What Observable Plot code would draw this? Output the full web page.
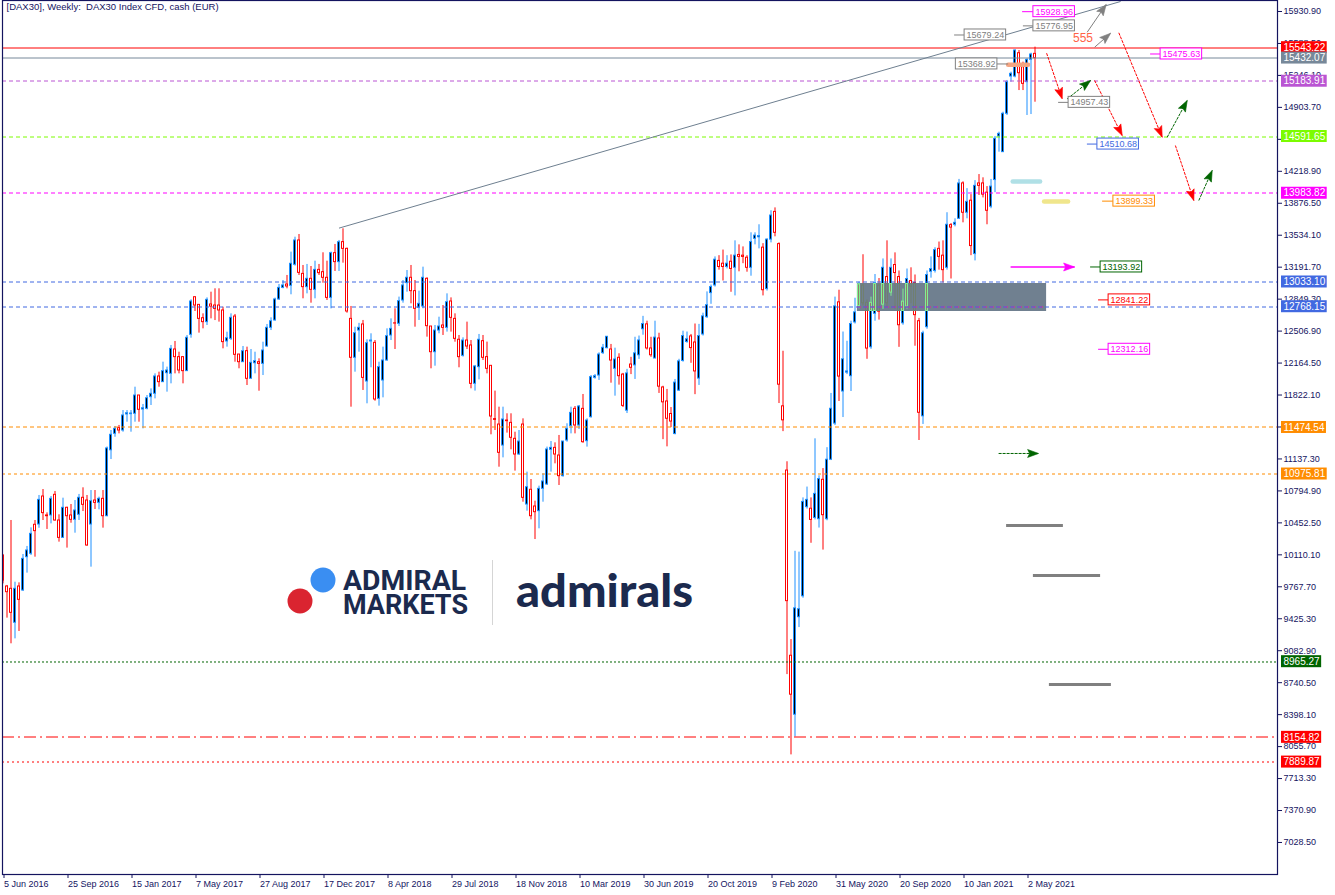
<!DOCTYPE html>
<html><head><meta charset="utf-8">
<script src="https://cdn.jsdelivr.net/npm/d3@7"></script>
<script src="https://cdn.jsdelivr.net/npm/@observablehq/plot@0.6"></script>
<style>
html,body{margin:0;padding:0;background:#fff;}
#chart{position:absolute;left:0;top:0;}
</style></head><body><div id="chart"></div>
<script>
// ---------- DATA (weekly candles, index 0 = week of 5 Jun 2016) ----------
const opens = [10100,9771,9746,9382,9771,9728,10085,10121,10432,10435,10735,10532,10532,10753,10478,10292,10614,10532,10485,10539,10721,10692,10435,10692,10667,10710,10524,11230,11406,11467,11442,11614,11617,11621,11817,11667,11674,11799,11835,12021,11960,12056,12049,12310,12228,12228,12078,12467,12870,12788,12645,12603,12792,12781,12781,12728,12396,12424,12663,12256,12174,12292,11996,12163,12174,12156,12342,12542,12621,12846,12970,13006,12992,13217,13478,13120,12978,13067,12949,13163,13138,13078,12863,13342,13246,13460,13388,12638,12221,12513,12578,11967,12396,12381,11781,11978,12192,12460,12590,12585,12835,13021,13078,12935,12756,12771,13067,12556,12281,12513,12567,12542,12824,12638,12414,12242,12406,12353,11942,12121,12399,12228,12135,11564,11506,11281,11549,11524,11353,11185,11506,10649,10807,10628,10578,10817,10864,11235,11256,11174,10953,11335,11489,11674,11496,11674,11328,11585,12006,12031,12271,12324,12310,12103,12221,12041,11654,12149,12140,12248,12527,12579,12321,12213,12428,11903,11753,11619,11404,11869,12187,12390,12450,12385,11998,12471,12656,12914,12996,13259,13229,13194,13250,13185,13323,13315,13293,13185,13495,13512,13401,12957,13487,13784,13439,11701,11013,9029,8397,9442,9666,10621,10604,10505,10492,10914,10492,11129,11516,12815,11860,12062,12024,12600,12770,13000,12815,12334,12692,13000,12785,13086,12914,13215,13086,12591,12764,13043,13022,12613,11594,12549,13142,13151,13388,13315,13185,13642,13646,13710,14089,13775,13904,13332,14089,14089,13990,13839,14125,14592,14424,14835,15234,15234,15484,15334,15174,15413,15477];
const highs = [10114,9782,10478,9817,9810,10114,10200,10399,10478,10746,10810,10560,10735,10789,10539,10717,10620,10649,10692,10757,10828,10746,10799,10799,10728,10799,11265,11442,11485,11496,11656,11656,11656,11906,11817,11721,11817,11888,12049,12067,12174,12121,12353,12396,12281,12228,12460,12842,12870,12788,12692,12863,12924,12960,12960,12763,12495,12692,12685,12256,12342,12335,12310,12281,12210,12388,12578,12649,12860,13006,13049,13103,13353,13513,13542,13210,13221,13199,13256,13221,13346,13256,13353,13435,13478,13603,13396,12771,12549,12590,12621,12414,12478,12406,12174,12335,12531,12638,12746,12871,13049,13156,13210,13049,12935,13192,13078,12556,12567,12656,12781,12906,12863,12692,12460,12435,12603,12406,12139,12471,12460,12389,12135,11864,11692,11692,11621,11621,11424,11442,11567,10996,10917,10685,10846,10978,11264,11324,11310,11389,11324,11514,11692,11699,11710,11828,11567,12031,12042,12274,12364,12446,12364,12324,12264,12054,12097,12226,12441,12454,12665,12613,12441,12613,12484,11916,11882,11688,11989,12205,12506,12497,12471,12583,12579,12699,12927,13000,13302,13315,13375,13315,13323,13474,13431,13409,13315,13560,13560,13646,13444,13495,13796,13827,13452,12291,11107,9202,10148,10139,10720,10836,10720,11353,10957,11034,11258,11839,12871,12945,12497,12398,12613,12859,13031,13325,12841,12871,13113,13070,13280,13474,13280,13345,13151,12957,13172,13185,13108,12643,12506,13151,13302,13400,13461,13474,13775,13659,13710,14132,14106,14033,13969,14119,14184,14149,14055,14132,14592,14638,14852,15192,15281,15520,15513,15388,15424,15484,15549];
const lows = [9799,9432,9157,9210,9289,9717,9914,10103,10085,10395,10478,10382,10442,10471,10246,10288,10182,10449,10342,10478,10574,10203,9978,10596,10592,10396,10518,11131,11370,11406,11424,11531,11424,11531,11531,11460,11663,11710,11781,11906,11960,11853,11942,12049,12049,11942,12078,12431,12717,12485,12531,12567,12638,12620,12603,12317,12335,12406,12174,12103,12174,11924,11996,12049,11863,12031,12335,12513,12613,12835,12960,12960,12896,13203,13103,12853,12906,12806,12853,13103,13020,12835,12745,13146,13146,13235,12699,11692,12067,12281,11871,11728,12114,11756,11703,11792,12185,12406,12310,12556,12806,12924,12799,12549,12621,12746,12442,12103,12131,12478,12460,12496,12496,12388,12114,12228,12310,11889,11864,11985,12192,12049,11396,11442,11049,11149,11414,11235,11007,11174,10674,10578,10485,10274,10389,10674,10853,10996,11085,10853,10942,11317,11406,11406,11453,11306,11264,11574,11992,11978,12256,12317,11949,11810,11928,11688,11624,12041,11989,12204,12463,12304,12226,12213,11839,11344,11267,11473,11396,11860,12174,12377,12162,11826,11925,12454,12643,12794,12979,13160,13044,13173,12923,12884,13142,13229,13138,13095,13431,13388,12884,12936,13452,13517,11731,11430,8827,7967,8160,9331,9645,10600,10234,10484,10397,10161,10475,11120,11495,11753,11581,12041,11860,12583,12745,12780,12205,12312,12613,12625,12740,12760,12880,12742,12333,12570,12742,12800,12345,11335,11507,12527,13074,13129,13160,13022,13160,13065,13624,13702,13667,13710,13315,13259,13960,13934,13646,13818,13990,14424,14424,14817,15174,15220,15084,15084,14817,14827,14959];
const closes = [9834,9710,9489,9746,9628,10067,10157,10335,10364,10699,10557,10524,10710,10478,10292,10614,10524,10485,10585,10721,10646,10210,10685,10667,10710,10524,11250,11396,11460,11442,11603,11628,11624,11817,11664,11681,11788,11835,12021,11960,12078,12085,12317,12228,12085,12078,12435,12824,12781,12638,12603,12842,12770,12745,12728,12389,12431,12649,12253,12174,12292,11996,12167,12185,12156,12299,12542,12613,12846,12970,12996,12985,13228,13478,13131,12978,13067,12949,13163,13128,13078,12863,13342,13246,13460,13388,12717,12221,12485,12542,12006,12378,12406,11774,12121,12192,12453,12531,12588,12828,12996,13078,12935,12746,12799,13078,12560,12281,12513,12556,12542,12817,12649,12424,12228,12406,12342,11942,12128,12414,12221,12103,11592,11556,11203,11560,11542,11364,11185,11324,10721,10835,10524,10567,10817,10896,11239,11256,11185,10953,11324,11460,11631,11496,11699,11317,11549,12014,12024,12256,12328,12446,12192,12203,12024,11706,12054,12114,12269,12407,12583,12321,12248,12437,11912,11744,11568,11538,11955,12183,12454,12420,12325,12075,12454,12665,12785,12979,13272,13194,13194,13229,13173,13315,13302,13302,13185,13461,13530,13525,12945,13487,13745,13560,11933,11551,9614,8612,9537,9528,10677,10699,10484,10763,10922,10535,11129,11675,12772,12020,12205,12075,12583,12708,13013,12800,12320,12815,13020,12715,13185,12800,13185,13129,12570,12828,13065,12979,12678,11632,12484,13108,13172,13375,13302,13160,13646,13616,13667,14089,13775,13891,13418,14063,14063,13969,13796,14055,14567,14620,14835,15174,15263,15513,15270,15156,15413,15470,15431];

const dateLabels = ["5 Jun 2016","25 Sep 2016","15 Jan 2017","7 May 2017","27 Aug 2017","17 Dec 2017","8 Apr 2018","29 Jul 2018","18 Nov 2018","10 Mar 2019","30 Jun 2019","20 Oct 2019","9 Feb 2020","31 May 2020","20 Sep 2020","10 Jan 2021","2 May 2021"];
const weeksPerLabel = 16;
const priceTicks = [15930.90,15588.50,15246.10,14903.70,14561.30,14218.90,13876.50,13534.10,13191.70,12849.30,12506.90,12164.50,11822.10,11479.70,11137.30,10794.90,10452.50,10110.10,9767.70,9425.30,9082.90,8740.50,8398.10,8055.70,7713.30,7370.90,7028.50];

// horizontal levels
const levelPrices = [15543.22,15432.07,15183.91,14591.65,13983.82,13033.10,12768.15,11474.54,10975.81,8965.27,8154.82,7889.87];
// price tags on the chart
const tagPrices = [15928.96,15776.95,15679.24,15368.92,15475.63,14957.43,14510.68,13899.33,13193.92,12841.22,12312.16];
const tagBoxWeek = [257.6,257.6,240.4,248.6,289.4,266.4,273.6,277.6,274.4,276.4,276.4];
const tagLeadWeek = [254.9,255.1,237.9,251.4,286.9,263.9,271.1,274.9,271.9,273.9,273.9];
// zone box (weeks, prices)
const zoneWeeks = [213.6, 260.9];
const zonePrices = [12717, 13017];
// trend line anchors
const trendWeeks = [84, 279.4];
const trendPrices = [13610, 16038];
// arrows [week1, price1, week2, price2]
const redArrows = [[260.9,15484,264.8,14995],[272.9,15192,279.8,14602],[278.95,15703,289.8,14584],[293.1,14495,297.7,13906]];
const greenArrows = [[266.05,14995,271.9,15192],[291.05,14584,296.05,14977],[298.95,13906,302.3,14228],[248.9,11196,258.9,11196]];
const grayArrows = [[271.05,15709,275.8,16006],[272.9,15548,276.9,15698]];
const pinkArrows = [[251.9,13194,267.9,13194]];
// marker bars [week1, week2, price]
const colorBars = [[251.4,256.4,15360],[252.55,259.4,14110],[260.4,266.4,13895]];
const grayBars = [[250.9,265.1,10424],[257.6,274.4,9889],[261.6,277.1,8721]];
const note555 = {week: 270, price: 15641, text: "555"};

// ---------- STYLES ----------
const navy = "#14145f";
const BULL = "#1E90FF", BEAR = "#FF0000";
// colours of candle parts seen through the (XOR-painted) zone box
const ZONE_FILL = "#708090", ZONE_BULL = "#81EF90", ZONE_BEAR = "#707F6F", ZONE_BLACK = "#8F7F6F";
const levelColors = ["#FF0000","#778899","#BA55D3","#7CFC00","#FF00FF","#4169E1","#4169E1","#FF8C00","#FF8C00","#006400","#FF0000","#FF0000"];
const levelDash = [null,null,"4,3","4,3","4,3","4,3","4,3","4,3","3,3","2,2","12,4,2,4","2,3"];
const tagColors = ["#FF00FF","#808080","#808080","#808080","#FF00FF","#808080","#4169E1","#FF8C00","#006400","#FF0000","#FF00FF"];
const colorBarColors = ["#F4A582","#B0E0E6","#F0E68C"];
const FONT = "'Liberation Sans', Arial, sans-serif";

// ---------- BUILD ----------
const xDomain = [-0.125, 318.625];
const yDomain = [6685.5, 16048.7];
const W = 1335, H = 895, mL = 2, mR = 58, mT = 0, mB = 21;
const xs = d3.scaleLinear(xDomain, [mL, W - mR]);
const ys = d3.scaleLinear(yDomain, [H - mB, mT]);
const snap = p => (Math.floor(ys(p)) + 0.5) - ys(p);   // pixel-centre offset for 1px lines

const candles = opens.map((o, i) => ({i, o, h: highs[i], l: lows[i], c: closes[i], up: closes[i] >= o,
  bt: Math.max(o, closes[i]), bb: Math.min(o, closes[i])}));
const bodyPx = d => ys(d.bb) - ys(d.bt);
const zone = {w1: zoneWeeks[0], w2: zoneWeeks[1], lo: zonePrices[0], hi: zonePrices[1]};
const inZone = candles.filter(d => d.i >= zone.w1 && d.i <= zone.w2 && d.l < zone.hi && d.h > zone.lo);
const inZoneBodies = inZone.filter(d => d.bb < zone.hi && d.bt > zone.lo)
  .map(d => ({i: d.i, up: d.up, bt: Math.min(d.bt, zone.hi), bb: Math.max(d.bb, zone.lo)}));

const mctx = document.createElement("canvas").getContext("2d");
function textW(s, px) { mctx.font = `${px}px ${FONT}`; return mctx.measureText(s).width; }

const tags = tagPrices.map((p, k) => ({p, box: tagBoxWeek[k], lead: tagLeadWeek[k], color: tagColors[k], text: p.toFixed(2), right: tagLeadWeek[k] < tagBoxWeek[k]}));
const tagRects = tags.map(t => {
  const w = textW(t.text, 9) + 4, px = xs(t.box);
  return {color: t.color,
    x1: t.right ? t.box : xs.invert(px - w), x2: t.right ? xs.invert(px + w) : t.box,
    y1: ys.invert(ys(t.p) + 5.5), y2: ys.invert(ys(t.p) - 5.5)};
});
const axisTags = levelPrices.map((p, k) => ({p, color: levelColors[k], text: p.toFixed(2)}));
const axisRects = axisTags.map(t => {
  const w = textW(t.text, 10) + 4;
  return {color: t.color, x1: xs.invert(W - mR + 4), x2: xs.invert(W - mR + 4 + w),
    y1: ys.invert(ys(t.p) + 6), y2: ys.invert(ys(t.p) - 6)};
});

const toSeg = a => ({w1: a[0], p1: a[1], w2: a[2], p2: a[3]});
const headAngle = d => Math.atan2(xs(d.w2) - xs(d.w1), -(ys(d.p2) - ys(d.p1))) * 180 / Math.PI;
const headSymbol = {draw(ctx) { ctx.moveTo(0, 0); ctx.lineTo(-4, 11); ctx.lineTo(0, 9); ctx.lineTo(4, 11); ctx.closePath(); }};
function arrowMarks(list, color, dash, width) {
  const segs = list.map(toSeg);
  return [
    Plot.link(segs, {x1: "w1", y1: "p1", x2: "w2", y2: "p2", stroke: color, strokeWidth: width, strokeDasharray: dash}),
    Plot.dot(segs, {x: "w2", y: "p2", r: 5, symbol: headSymbol, fill: color, stroke: color, strokeWidth: 0.6, rotate: headAngle})
  ];
}

const marks = [
  Plot.text(["[DAX30], Weekly:\u00a0 DAX30 Index CFD, cash (EUR)"], {frameAnchor: "top-left", dx: 4, dy: 3, lineAnchor: "top", textAnchor: "start", fill: navy, fontSize: 9.5}),
  // candles: wick, outer body (border colour), inner body (fill)
  Plot.ruleX(candles, {x: "i", y1: "l", y2: "h", stroke: d => d.up ? BULL : BEAR, strokeWidth: 1, clip: true}),
  Plot.rect(candles, {x1: d => d.i - 0.375, x2: d => d.i + 0.375, y1: "bb", y2: "bt", insetTop: -0.5, insetBottom: -0.5,
    fill: d => d.up ? BULL : BEAR, clip: true}),
  Plot.rect(candles.filter(d => bodyPx(d) > 1.2), {x1: d => d.i - 0.125, x2: d => d.i + 0.125, y1: "bb", y2: "bt", insetTop: 0.5, insetBottom: 0.5,
    fill: d => d.up ? "#000000" : "#FFFFFF", clip: true}),
  // zone box with candles seen through it
  Plot.rect([zone], {x1: "w1", x2: "w2", y1: "lo", y2: "hi", fill: ZONE_FILL}),
  Plot.ruleX(inZone, {x: "i", y1: d => Math.max(d.l, zone.lo), y2: d => Math.min(d.h, zone.hi), stroke: d => d.up ? ZONE_BULL : ZONE_BEAR, strokeWidth: 1}),
  Plot.rect(inZoneBodies, {x1: d => d.i - 0.375, x2: d => d.i + 0.375, y1: "bb", y2: "bt", fill: d => d.up ? ZONE_BULL : ZONE_BEAR}),
  Plot.rect(inZoneBodies.filter(d => ys(d.bb) - ys(d.bt) > 2), {x1: d => d.i - 0.125, x2: d => d.i + 0.125, y1: "bb", y2: "bt", insetTop: 1, insetBottom: 1,
    fill: d => d.up ? ZONE_BLACK : ZONE_FILL}),
  Plot.ruleY([levelPrices[6]], {x1: zone.w1, x2: zone.w2, stroke: "#FF1493", strokeDasharray: "4,3", dy: snap(levelPrices[6])}),
  // levels
  ...levelPrices.map((p, k) => Plot.ruleY([p], {stroke: levelColors[k], strokeWidth: 1, strokeDasharray: levelDash[k] || undefined, dy: snap(p)})),
  // trend line
  Plot.link([{w1: trendWeeks[0], p1: trendPrices[0], w2: trendWeeks[1], p2: trendPrices[1]}], {x1: "w1", y1: "p1", x2: "w2", y2: "p2", stroke: "#6E7F90", strokeWidth: 1, clip: true}),
  // marker bars
  Plot.ruleY(colorBars.map((b, k) => ({w1: b[0], w2: b[1], p: b[2], c: colorBarColors[k]})), {y: "p", x1: "w1", x2: "w2", stroke: "c", strokeWidth: 4.5, strokeLinecap: "round"}),
  Plot.ruleY(grayBars.map(b => ({w1: b[0], w2: b[1], p: b[2]})), {y: "p", x1: "w1", x2: "w2", stroke: "#808080", strokeWidth: 3}),
  // arrows
  ...arrowMarks(redArrows, "#FF0000", "3,1", 1),
  ...arrowMarks(greenArrows, "#006400", "3,1", 1),
  ...arrowMarks(grayArrows, "#808080", null, 1),
  ...arrowMarks(pinkArrows, "#FF00FF", null, 1.6),
  // tags
  Plot.ruleY(tags, {y: "p", x1: "lead", x2: "box", stroke: "color", strokeWidth: 1}),
  Plot.rect(tagRects, {x1: "x1", x2: "x2", y1: "y1", y2: "y2", fill: "white", stroke: "color", strokeWidth: 1}),
  Plot.text(tags.filter(t => t.right), {x: "box", y: "p", text: "text", fill: "color", textAnchor: "start", dx: 2, fontSize: 9}),
  Plot.text(tags.filter(t => !t.right), {x: "box", y: "p", text: "text", fill: "color", textAnchor: "end", dx: -2, fontSize: 9}),
  Plot.text([note555], {x: "week", y: "price", text: "text", fill: "#FF6347", fontSize: 12}),
  // axes
  Plot.axisY(priceTicks, {anchor: "right", tickSize: 4, tickPadding: 2, tickFormat: d => d.toFixed(2), fontSize: 9, label: null}),
  Plot.axisX(dateLabels.map((_, k) => k * weeksPerLabel), {anchor: "bottom", tickSize: 4, tickPadding: 2, tickFormat: d => dateLabels[d / weeksPerLabel], textAnchor: "start", dx: 1, fontSize: 9, label: null}),
  // level tags on the price axis
  Plot.rect(axisRects, {x1: "x1", x2: "x2", y1: "y1", y2: "y2", fill: "color"}),
  Plot.text(axisTags, {x: xs.invert(W - mR + 6), y: "p", text: "text", fill: "white", textAnchor: "start", fontSize: 10}),
  Plot.frame({stroke: navy, strokeWidth: 1.2})
];

const plot = Plot.plot({
  width: W, height: H, marginLeft: mL, marginRight: mR, marginTop: mT, marginBottom: mB,
  style: {fontFamily: FONT, fontSize: "9px", color: navy, background: "white", overflow: "visible"},
  x: {type: "linear", domain: xDomain},
  y: {type: "linear", domain: yDomain},
  color: {type: "identity"},
  marks
});
document.getElementById("chart").append(plot);

// ---------- watermark logo ----------
const svg = d3.select(plot);
const logo = svg.append("g").attr("font-family", "Roboto, 'Open Sans', sans-serif").attr("font-weight", 700).attr("text-anchor", "start");
logo.append("circle").attr("cx", 323).attr("cy", 580).attr("r", 12.5).attr("fill", "#3A8EF2");
logo.append("circle").attr("cx", 300).attr("cy", 601).attr("r", 12.5).attr("fill", "#DA2430");
logo.append("text").attr("x", 343).attr("y", 590).attr("font-size", 27).attr("fill", "#1B2A4E").attr("textLength", 123).attr("lengthAdjust", "spacingAndGlyphs").text("ADMIRAL");
logo.append("text").attr("x", 343).attr("y", 614).attr("font-size", 27).attr("fill", "#1B2A4E").attr("textLength", 125).attr("lengthAdjust", "spacingAndGlyphs").text("MARKETS");
logo.append("line").attr("x1", 492.5).attr("x2", 492.5).attr("y1", 560).attr("y2", 625).attr("stroke", "#D5D5D5");
logo.append("text").attr("x", 516).attr("y", 607).attr("font-size", 46).attr("fill", "#1B2A4E").attr("textLength", 177).attr("lengthAdjust", "spacingAndGlyphs").attr("font-family", "Lato, Roboto, sans-serif").attr("font-weight", 900).text("admirals");
</script>
</body></html>
